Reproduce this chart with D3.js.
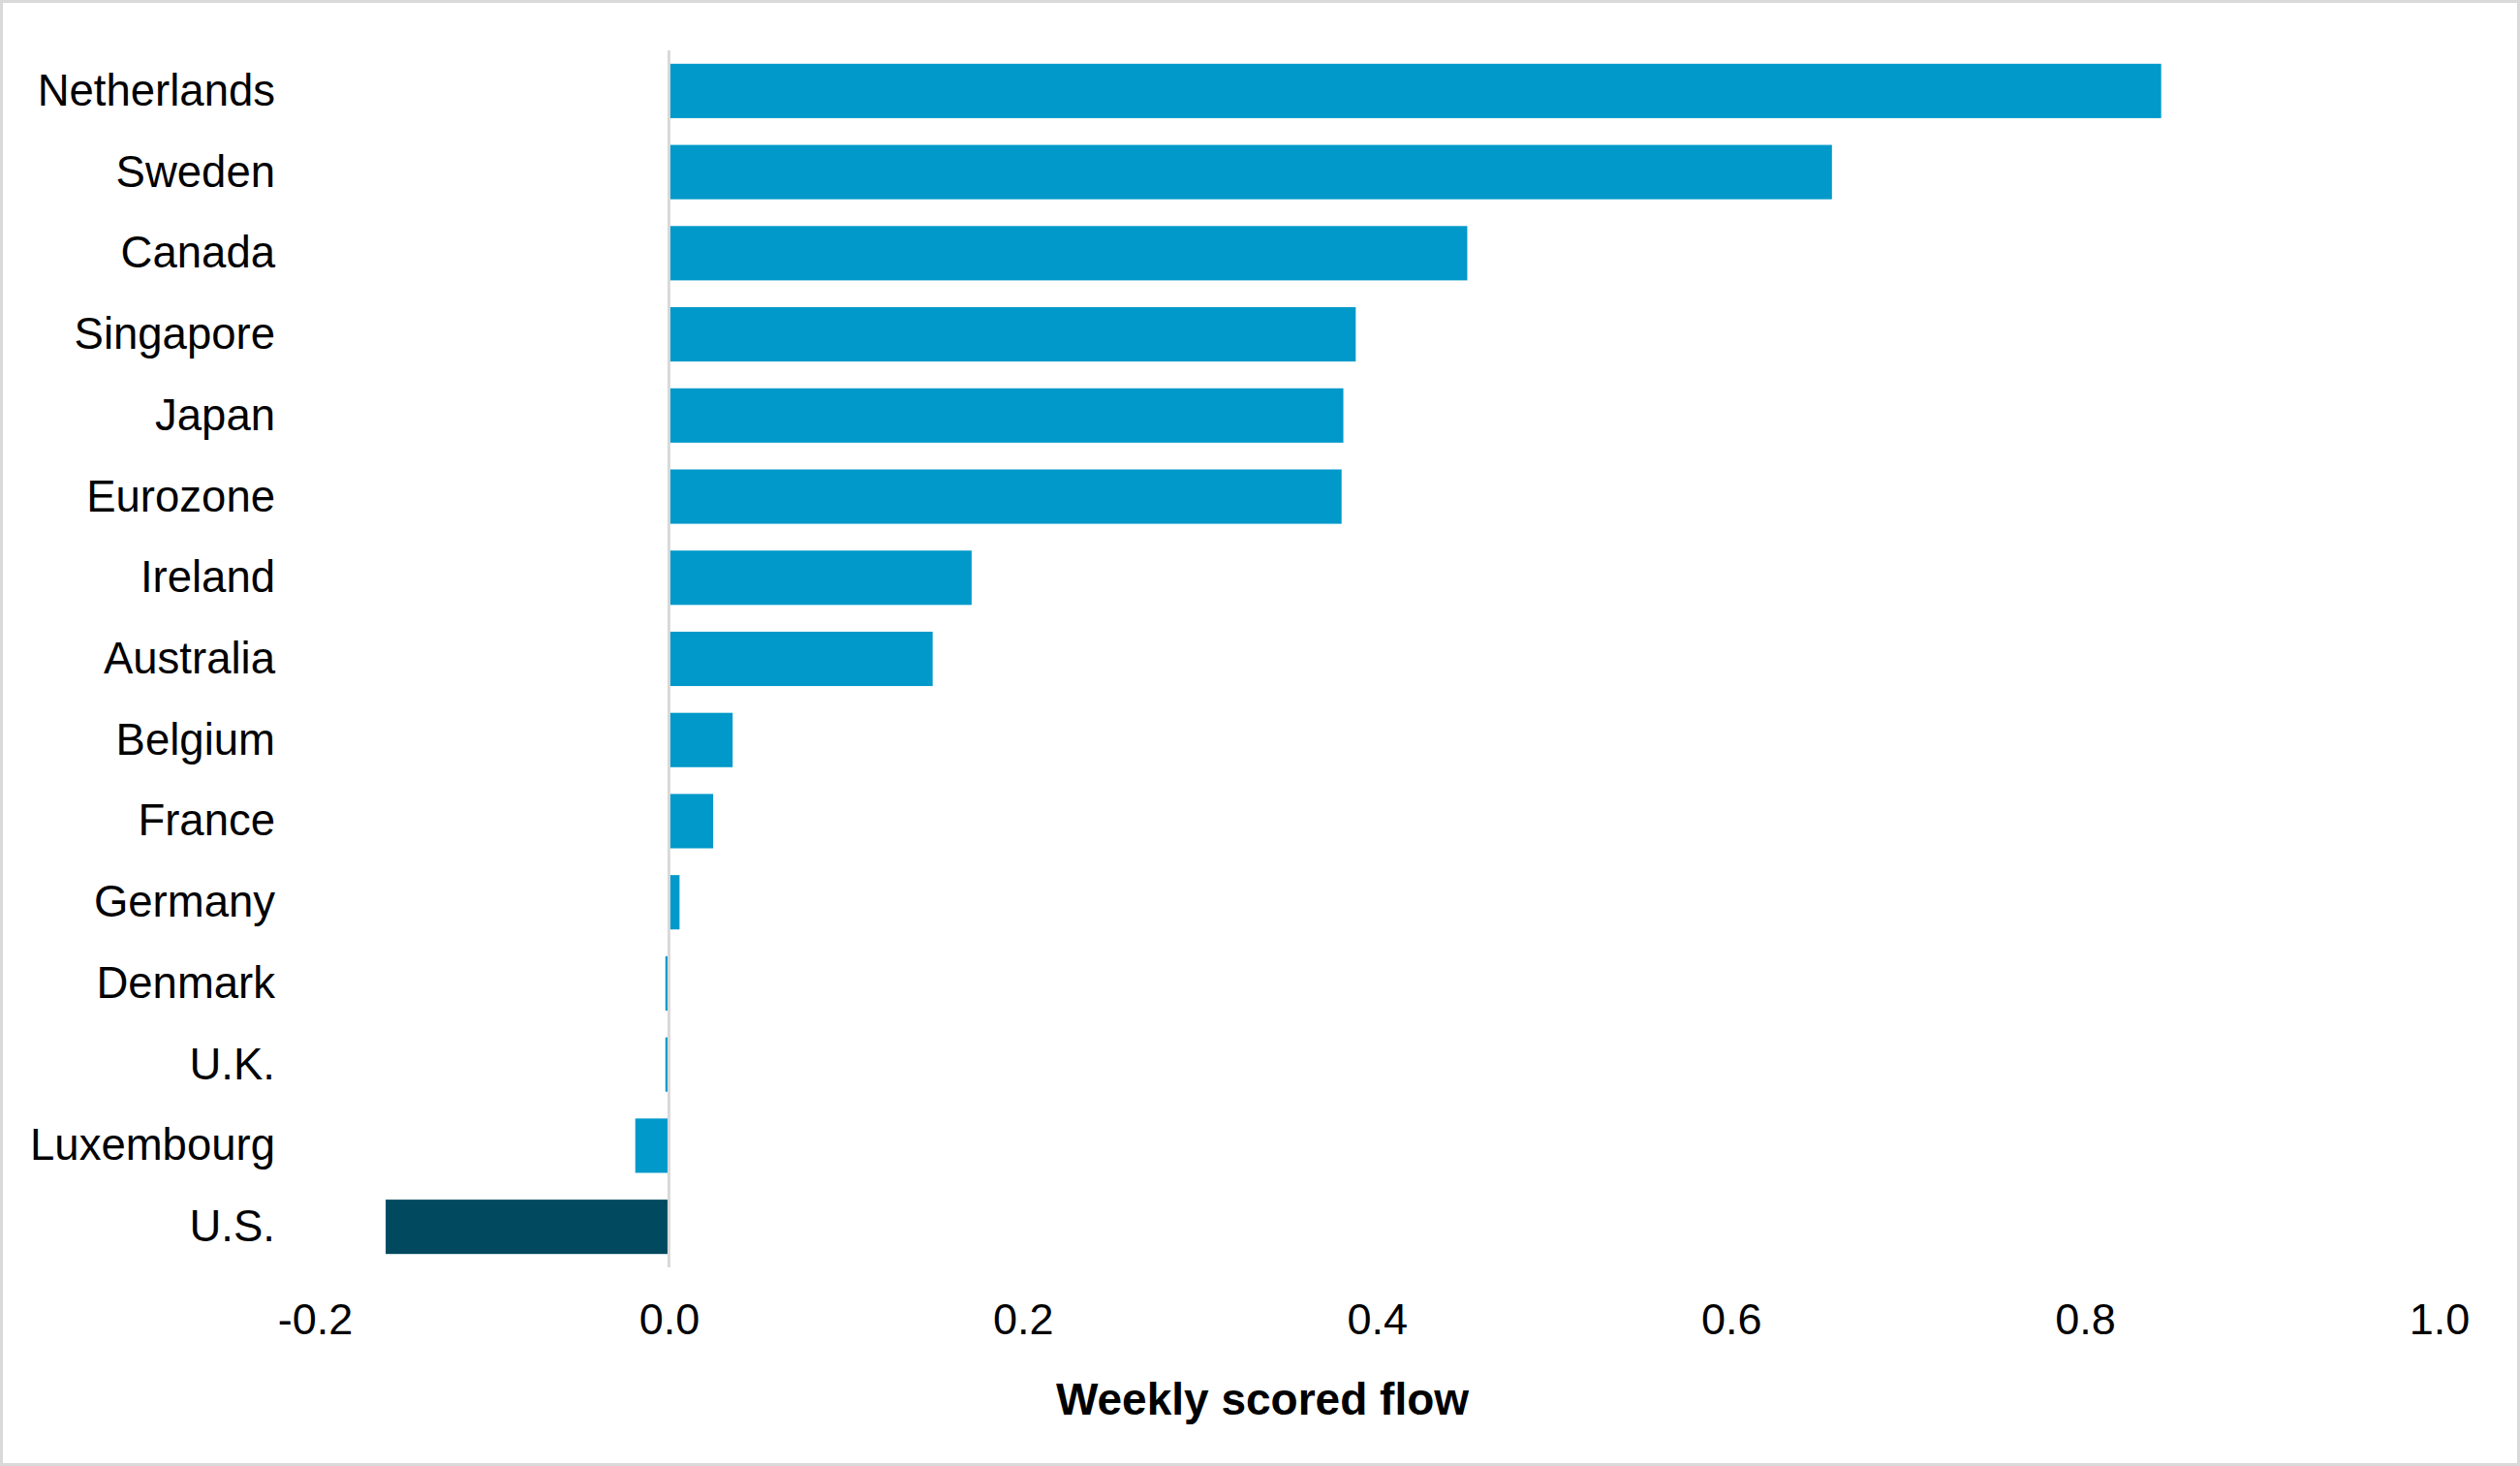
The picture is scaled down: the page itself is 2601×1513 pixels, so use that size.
<!DOCTYPE html>
<html>
<head>
<meta charset="utf-8">
<script src="https://cdn.jsdelivr.net/npm/d3@7"></script>
<style>
    html, body { margin: 0; padding: 0; background: #ffffff; }
    svg { display: block; font-family: "Liberation Sans", Arial, sans-serif; }
</style>
</head>
<body>
<div id="chart"></div>
<script>
// Data
const countries = ["Netherlands", "Sweden", "Canada", "Singapore", "Japan", "Eurozone",
    "Ireland", "Australia", "Belgium", "France", "Germany", "Denmark", "U.K.",
    "Luxembourg", "U.S."];
const flows = [0.843, 0.657, 0.451, 0.388, 0.381, 0.380, 0.171, 0.149, 0.036,
    0.025, 0.006, -0.002, -0.002, -0.019, -0.160];
const highlighted = ["U.S."];
const xTicks = [-0.2, 0, 0.2, 0.4, 0.6, 0.8, 1.0];
const xLabel = "Weekly scored flow";

const width = 2601;
const height = 1513;
const margin = { top: 52, right: 83.5, bottom: 205, left: 325 };

const svg = d3.select("#chart")
    .append("svg")
    .attr("width", width)
    .attr("height", height);

// outer frame
svg.append("rect")
    .attr("x", 1.5)
    .attr("y", 1.5)
    .attr("width", width - 3)
    .attr("height", height - 3)
    .attr("fill", "#ffffff")
    .attr("stroke", "#d9d9d9")
    .attr("stroke-width", 3);

let x = d3.scaleLinear()
    .domain([-0.2, 1.0])
    .range([margin.left, width - margin.right]);

let y = d3.scaleBand()
    .domain(countries)
    .range([margin.top, height - margin.bottom])
    .paddingInner(0.33)
    .paddingOuter(0.165);

// bars
svg.append("g")
    .attr("class", "bars")
    .selectAll("rect")
    .data(countries)
    .join("rect")
    .attr("x", (d, i) => x(Math.min(0, flows[i])))
    .attr("y", d => y(d))
    .attr("width", (d, i) => Math.abs(x(flows[i]) - x(0)))
    .attr("height", y.bandwidth())
    .attr("fill", d => highlighted.includes(d) ? "#00495f" : "#0099c9");

// zero line
svg.append("line")
    .attr("x1", x(0))
    .attr("x2", x(0))
    .attr("y1", margin.top)
    .attr("y2", height - margin.bottom)
    .attr("stroke", "#d9d9d9")
    .attr("stroke-width", 3);

// category labels
let gY = svg.append("g")
    .attr("class", "y")
    .attr("transform", "translate(284,0)")
    .call(d3.axisLeft(y).tickSize(0).tickPadding(0));
gY.select(".domain").remove();
gY.selectAll("text")
    .attr("font-size", "45.5px")
    .attr("font-family", "'Liberation Sans', Arial, sans-serif")
    .attr("dy", "0.33em")
    .style("fill", "#000000");

// value axis
let gX = svg.append("g")
    .attr("class", "x")
    .attr("transform", "translate(0," + (height - margin.bottom) + ")")
    .call(d3.axisBottom(x).tickValues(xTicks).tickFormat(d3.format(".1f")).tickSize(0).tickPadding(37));
gX.select(".domain").remove();
gX.selectAll("text")
    .attr("font-size", "45px")
    .attr("font-family", "'Liberation Sans', Arial, sans-serif")
    .text(d => d3.format(".1f")(d).replace("−", "-"))
    .style("fill", "#000000");

// X label
svg.append("text")
    .attr("class", "x-label")
    .attr("x", 1303)
    .attr("y", 1460)
    .attr("font-size", "46px")
    .attr("font-weight", "bold")
    .style("text-anchor", "middle")
    .style("fill", "#000000")
    .text(xLabel);
</script>
</body>
</html>
